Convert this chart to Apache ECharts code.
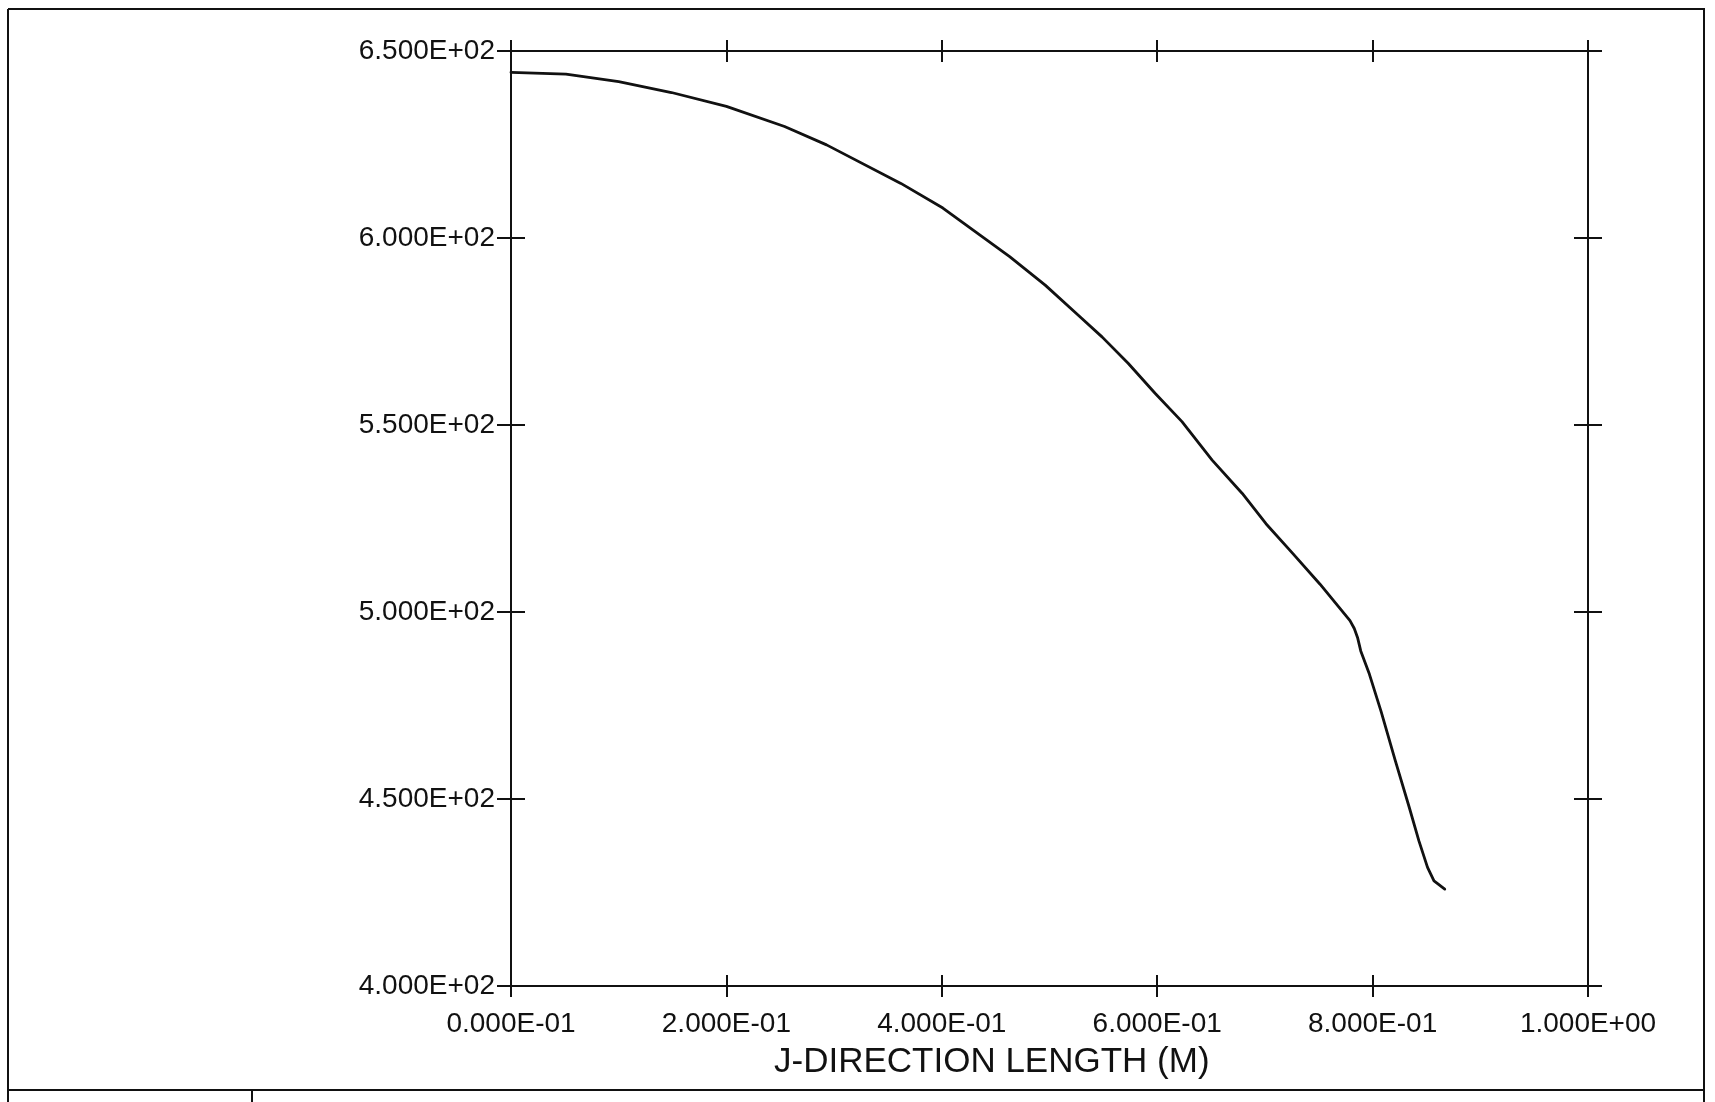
<!DOCTYPE html>
<html>
<head>
<meta charset="utf-8">
<script src="https://cdn.jsdelivr.net/npm/echarts@6/dist/echarts.min.js"></script>
<style>
  html, body { margin: 0; padding: 0; background: #fff; }
  #chart { width: 1715px; height: 1102px; }
</style>
</head>
<body>
<div id="chart"></div>
<script>
// curve (x in m, y value)
var jLength = [0, 0.051, 0.100, 0.149, 0.200, 0.254, 0.293, 0.362, 0.401, 0.463, 0.496, 0.527, 0.549, 0.573,
  0.598, 0.623, 0.651, 0.679, 0.701, 0.726, 0.751, 0.779, 0.783, 0.786, 0.789, 0.797, 0.808, 0.821, 0.834,
  0.843, 0.851, 0.857, 0.867];
var values = [644.3, 643.8, 641.8, 638.9, 635.2, 629.8, 624.9, 614.6, 608.0, 595.0, 587.4, 579.3, 573.5, 566.5,
  558.5, 550.9, 540.6, 531.7, 523.6, 515.6, 507.5, 497.7, 495.6, 493.2, 489.6, 483.4, 473.3, 460.3, 447.8,
  438.8, 431.7, 428.1, 425.9];

var xTicks = [0, 0.2, 0.4, 0.6, 0.8, 1.0];
var xTickLabels = ["0.000E-01", "2.000E-01", "4.000E-01", "6.000E-01", "8.000E-01", "1.000E+00"];
var yTicks = [400, 450, 500, 550, 600, 650];
var yTickLabels = ["4.000E+02", "4.500E+02", "5.000E+02", "5.500E+02", "6.000E+02", "6.500E+02"];

var xTitle = "J-DIRECTION LENGTH (M)";

var font = "Liberation Sans, Arial, Helvetica, sans-serif";
var ink = "#111";

function pick(ticks, labels) {
  return function (v) {
    for (var i = 0; i < ticks.length; i++) {
      if (Math.abs(ticks[i] - v) < 1e-6) return labels[i];
    }
    return "";
  };
}

function xAx(pos, inside, withLabels, withLine) {
  return {
    type: "value", position: pos, min: 0, max: 1, interval: 0.2,
    splitLine: { show: false },
    axisLine: { show: withLine, onZero: false, lineStyle: { color: ink, width: 2 } },
    axisTick: { show: true, inside: inside, length: 11, lineStyle: { color: ink, width: 2 } },
    axisLabel: {
      show: withLabels, margin: 24, formatter: pick(xTicks, xTickLabels),
      color: ink, fontSize: 28, fontFamily: font
    }
  };
}

function yAx(pos, inside, withLabels, withLine) {
  return {
    type: "value", position: pos, min: 400, max: 650, interval: 50,
    splitLine: { show: false },
    axisLine: { show: withLine, onZero: false, lineStyle: { color: ink, width: 2 } },
    axisTick: { show: true, inside: inside, length: 14, lineStyle: { color: ink, width: 2 } },
    axisLabel: {
      show: withLabels, margin: 16, formatter: pick(yTicks, yTickLabels),
      color: ink, fontSize: 28, fontFamily: font
    }
  };
}

var chart = echarts.init(document.getElementById("chart"), null, { renderer: "canvas" });

chart.setOption({
  backgroundColor: "#fff",
  animation: false,
  title: {
    text: xTitle, left: 774, top: 1045, padding: 0,
    textStyle: { color: ink, fontSize: 35, fontWeight: "normal", fontFamily: font }
  },
  grid: { left: 511, right: 127, top: 51, bottom: 116 },
  xAxis: [
    xAx("bottom", false, true, true),
    xAx("bottom", true, false, false),
    xAx("top", false, false, true),
    xAx("top", true, false, false)
  ],
  yAxis: [
    yAx("left", false, true, true),
    yAx("left", true, false, false),
    yAx("right", false, false, true),
    yAx("right", true, false, false)
  ],
  series: [{
    type: "line",
    xAxisIndex: 0, yAxisIndex: 0,
    data: jLength.map(function (x, i) { return [x, values[i]]; }),
    showSymbol: false, symbol: "none", smooth: false,
    lineStyle: { color: ink, width: 2.8, join: "round", cap: "round" }
  }],
  graphic: [
    { type: "line", shape: { x1: 8, y1: 9, x2: 1705, y2: 9 }, style: { stroke: ink, lineWidth: 2 } },
    { type: "line", shape: { x1: 8, y1: 9, x2: 8, y2: 1102 }, style: { stroke: ink, lineWidth: 2 } },
    { type: "line", shape: { x1: 1704, y1: 9, x2: 1704, y2: 1102 }, style: { stroke: ink, lineWidth: 2 } },
    { type: "line", shape: { x1: 8, y1: 1090, x2: 1704, y2: 1090 }, style: { stroke: ink, lineWidth: 2 } },
    { type: "line", shape: { x1: 252, y1: 1090, x2: 252, y2: 1102 }, style: { stroke: ink, lineWidth: 2 } }
  ]
});
</script>
</body>
</html>
